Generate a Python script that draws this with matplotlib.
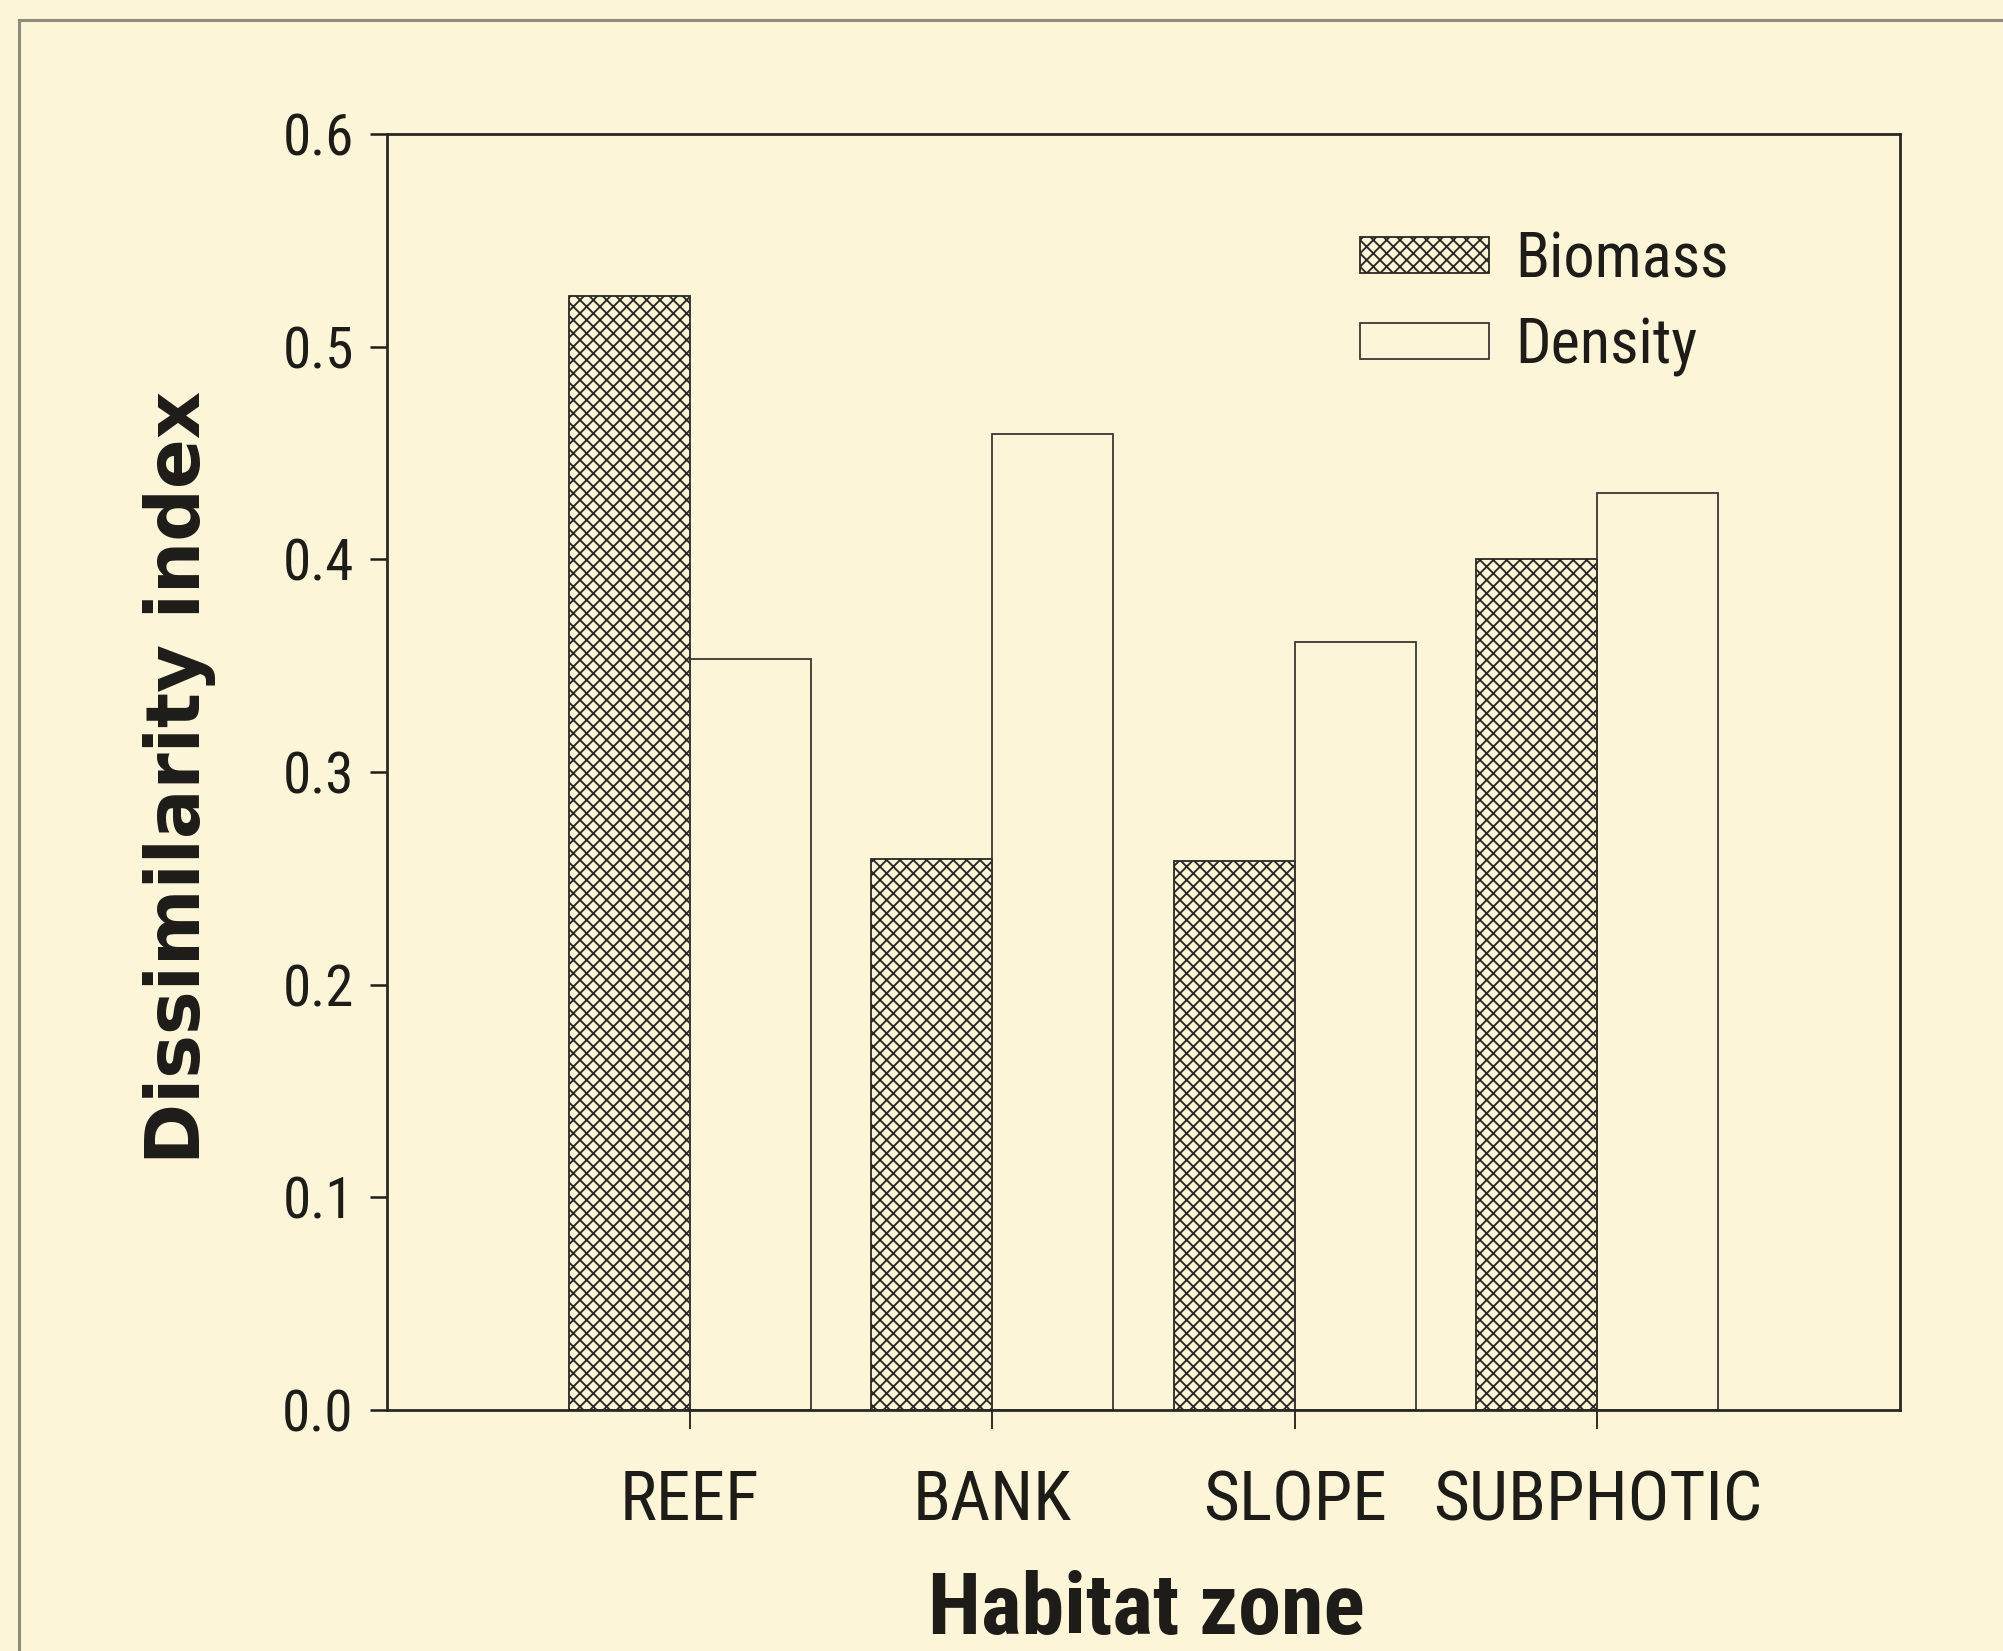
import matplotlib
matplotlib.use("Agg")
import matplotlib.pyplot as plt
from matplotlib import font_manager
from matplotlib.font_manager import FontProperties
from matplotlib.lines import Line2D
import numpy as np

categories = ["REEF", "BANK", "SLOPE", "SUBPHOTIC"]
biomass = [0.524, 0.259, 0.258, 0.400]
density = [0.353, 0.459, 0.361, 0.431]
yticks = [0.0, 0.1, 0.2, 0.3, 0.4, 0.5, 0.6]
ytick_labels = ["0.0", "0.1", "0.2", "0.3", "0.4", "0.5", "0.6"]

# ---- font selection: look for a condensed / narrow sans ----
entries = font_manager.fontManager.ttflist


def is_narrow(f):
    s = (f.name + " " + f.fname).lower()
    return ("narrow" in s or "condensed" in s or
            str(f.stretch) in ("condensed", "semi-condensed", "extra-condensed"))


def weight_num(w):
    if isinstance(w, (int, float)):
        return w
    table = {"ultralight": 200, "light": 300, "normal": 400, "regular": 400,
             "book": 400, "medium": 500, "roman": 400, "semibold": 600,
             "demibold": 600, "demi": 600, "bold": 700, "heavy": 800,
             "extra bold": 800, "black": 900}
    return table.get(str(w).lower(), 400)


pref = ["liberation sans narrow", "arial narrow", "roboto condensed",
        "open sans condensed", "dejavu sans condensed", "dejavu sans", "noto sans"]
narrow_entries = [f for f in entries if is_narrow(f) and f.style == "normal"]


def rank(f):
    s = (f.name + " " + f.fname).lower()
    for i, p in enumerate(pref):
        if p in s or p.replace(" ", "") in s:
            return i
    return len(pref)


narrow_entries.sort(key=rank)


def pick(bold):
    for f in narrow_entries:
        w = weight_num(f.weight)
        if (bold and w >= 600) or (not bold and 350 <= w <= 500):
            return FontProperties(fname=f.fname)
    return None


fp_narrow = pick(False)
fp_narrow_bold = pick(True)
if fp_narrow is None:
    fp_narrow = FontProperties(family="Liberation Sans")
if fp_narrow_bold is None:
    fp_narrow_bold = FontProperties(family="Liberation Sans", weight="bold")

DPI = 80
S = 100 / DPI  # sizes below are designed for 100 dpi


def fp(base, size):
    p = base.copy()
    p.set_size(size * S)
    return p


bg = "#fdf5d8"
ink = "#1e1c18"

W, H = 2003, 1651
fig = plt.figure(figsize=(W / DPI, H / DPI), dpi=DPI, facecolor=bg)
ax = fig.add_axes([387 / W, 1 - 1410 / H, (1900 - 387) / W, (1410 - 134) / H])
ax.set_facecolor("none")

x = np.arange(len(categories))
bw = 0.4
plt.rcParams["hatch.linewidth"] = 1.35 * S
ax.bar(x - bw / 2, biomass, width=bw, facecolor="none", edgecolor="#2a2825",
       hatch="xx", linewidth=1.3 * S, label="Biomass")
ax.bar(x + bw / 2, density, width=bw, facecolor="none", edgecolor="#3a3833",
       linewidth=1.3 * S, label="Density")

ax.set_xlim(-1, 4)
ax.set_ylim(0, 0.6)
ax.set_xticks(x)
ax.set_xticklabels(categories, fontproperties=fp(fp_narrow, 50), color=ink)
ax.set_yticks(yticks)
ax.set_yticklabels(ytick_labels, fontproperties=fp(fp_narrow, 41), color=ink)
ax.tick_params(axis="y", direction="out", length=12 * S, width=1.8 * S, pad=12 * S, color=ink)
ax.tick_params(axis="x", direction="out", length=14 * S, width=1.3 * S, pad=28 * S, color=ink)
for s in ax.spines.values():
    s.set_linewidth(2.0 * S)
    s.set_color("#2a2825")

leg = ax.legend(loc="upper left", bbox_to_anchor=(1360 / W, 1 - 230 / H),
                bbox_transform=fig.transFigure, frameon=False,
                prop=fp(fp_narrow, 45), handlelength=2.06,
                handleheight=0.5, handletextpad=0.42, labelspacing=0.42,
                borderpad=0, borderaxespad=0)
for t in leg.get_texts():
    t.set_color(ink)

fig.text(180 / W, 1 - 777 / H, "Dissimilarity index", rotation=90, ha="center",
         va="center", fontfamily="DejaVu Sans", fontweight="bold",
         fontsize=53 * S, color=ink)
fig.text(1146 / W, 0.0, "Habitat zone", ha="center", va="bottom",
         fontproperties=fp(fp_narrow_bold, 62), color=ink)

# page frame lines (scan border)
fig.add_artist(Line2D([19 / W, 19 / W], [0, 1 - 20 / H], transform=fig.transFigure,
                      color="#8e8c7e", linewidth=2.2 * S))
fig.add_artist(Line2D([19 / W, 1], [1 - 20 / H, 1 - 20 / H], transform=fig.transFigure,
                      color="#8e8c7e", linewidth=2.2 * S))

fig.savefig("out.png", dpi=DPI, facecolor=bg)
